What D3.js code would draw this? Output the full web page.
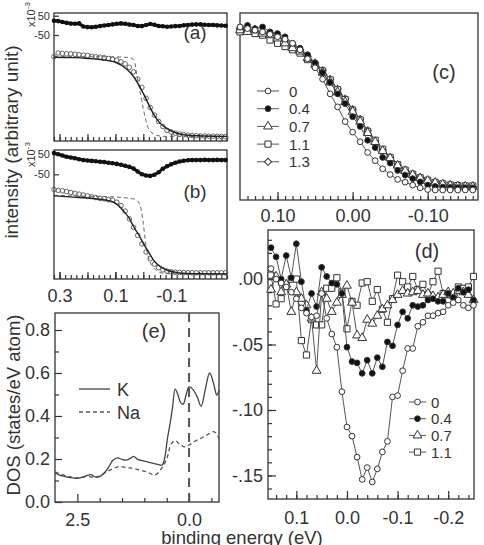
<!DOCTYPE html>
<html>
<head>
<meta charset="utf-8">
<script src="https://cdnjs.cloudflare.com/ajax/libs/d3/7.8.5/d3.min.js"></script>
<style>
  body { margin: 0; background: #fff; }
  svg { display: block; }
</style>
</head>
<body>
<script>
const FONT = '"Liberation Sans", Arial, Helvetica, sans-serif'
const INK = '#333'

// ---- (a), (b): spectra on a shared energy grid
const abEnergy = [0.32, 0.305, 0.29, 0.275, 0.26, 0.245, 0.23, 0.215, 0.2, 0.185, 0.17, 0.155, 0.14, 0.125, 0.11, 0.095, 0.08, 0.065, 0.05, 0.035, 0.02, 0.005,
  -0.01, -0.025, -0.04, -0.055, -0.07, -0.085, -0.1, -0.115, -0.13, -0.145, -0.16, -0.175, -0.19, -0.205, -0.22, -0.235, -0.25, -0.265, -0.28, -0.295]
const aIntensity = [0.955, 1.0, 0.995, 0.99, 0.99, 0.985, 0.98, 0.975, 0.97, 0.96, 0.955, 0.95, 0.945, 0.935, 0.925, 0.915, 0.895, 0.87, 0.83, 0.775, 0.69, 0.59,
  0.46, 0.35, 0.26, 0.185, 0.125, 0.08, 0.06, 0.045, 0.035, 0.028, 0.022, 0.018, 0.015, 0.012, 0.012, 0.01, 0.01, 0.008, 0.006, 0.005]
const aResidual = [24, 22, 17, 13, 9, 8, 10, -6, -9, -10, -7, -4, -1, 2, 5, 8, 10, 8, 4, 2, -3, -4,
  2, 7, 3, -3, -5, -7, -6, -4, -3, 0, 2, 4, 5, 5, 3, 2, 2, 0, -1, -2]
const aFit = [[0.32, 0.95], [0.25, 0.945], [0.2, 0.935], [0.15, 0.92], [0.1, 0.89], [0.06, 0.81], [0.035, 0.72], [0.0, 0.52], [-0.035, 0.285],
  [-0.06, 0.165], [-0.085, 0.1], [-0.12, 0.045], [-0.16, 0.02], [-0.22, 0.012], [-0.3, 0.008]]
const aFermi = [[0.32, 0.955], [0.15, 0.955], [0.08, 0.952], [0.05, 0.945], [0.04, 0.935], [0.03, 0.88], [0.024, 0.76], [0.015, 0.6], [0.006, 0.44],
  [-0.003, 0.29], [-0.012, 0.16], [-0.025, 0.07], [-0.048, 0.02], [-0.07, 0.008], [-0.3, 0.005]]

const bIntensity = [1.0, 0.99, 0.985, 0.975, 0.965, 0.955, 0.945, 0.935, 0.925, 0.915, 0.905, 0.895, 0.89, 0.88, 0.875, 0.85, 0.81, 0.745, 0.655, 0.555, 0.46, 0.36,
  0.265, 0.185, 0.12, 0.08, 0.055, 0.04, 0.032, 0.027, 0.024, 0.022, 0.021, 0.021, 0.02, 0.02, 0.02, 0.02, 0.02, 0.02, 0.02, 0.021]
const bResidual = [56, 50, 44, 38, 34, 30, 25, 21, 19, 17, 15, 13, 11, 8, 5, 2, -2, -7, -13, -21, -36, -50,
  -56, -58, -52, -40, -22, -10, 0, 8, 14, 18, 20, 21, 21, 21, 22, 21, 21, 22, 21, 21]
const bFit = [[0.32, 0.925], [0.25, 0.91], [0.2, 0.9], [0.155, 0.885], [0.12, 0.865], [0.1, 0.84], [0.07, 0.745], [0.05, 0.66], [0.035, 0.565],
  [0.015, 0.46], [0.0, 0.367], [-0.02, 0.26], [-0.036, 0.171], [-0.06, 0.095], [-0.084, 0.053], [-0.11, 0.03], [-0.143, 0.014], [-0.2, 0.008], [-0.3, 0.006]]
const bFermi = [[0.32, 0.93], [0.2, 0.92], [0.12, 0.915], [0.06, 0.9], [0.03, 0.885], [0.015, 0.84], [0.005, 0.72], [0.0, 0.6], [-0.012, 0.29],
  [-0.024, 0.15], [-0.036, 0.085], [-0.05, 0.04], [-0.072, 0.014], [-0.11, 0.006], [-0.3, 0.005]]

// ---- (c): normalised edges
const cEnergy = [0.15, 0.14, 0.13, 0.12, 0.11, 0.1, 0.09, 0.08, 0.07, 0.06, 0.05, 0.04, 0.03, 0.02, 0.01, 0,
  -0.01, -0.02, -0.03, -0.04, -0.05, -0.06, -0.07, -0.08, -0.09, -0.1, -0.11, -0.12, -0.13, -0.14, -0.15, -0.16]
const cLabels = ['0', '0.4', '0.7', '1.1', '1.3']
const c0 = [1.0, 0.99, 0.98, 0.97, 0.955, 0.94, 0.925, 0.9, 0.86, 0.805, 0.75, 0.68, 0.59, 0.51, 0.42, 0.355,
  0.296, 0.23, 0.18, 0.13, 0.095, 0.065, 0.048, 0.03, 0.013, 0.003, 0, 0, 0, 0, 0, 0]
const c04 = [1.0, 1.01, 0.99, 1.0, 0.97, 0.96, 0.94, 0.9, 0.87, 0.83, 0.78, 0.72, 0.66, 0.59, 0.53, 0.45,
  0.39, 0.305, 0.26, 0.2, 0.165, 0.12, 0.092, 0.07, 0.05, 0.03, 0.022, 0.018, 0.016, 0.015, 0.014, 0.013]
const c07 = [0.98, 0.97, 0.98, 0.96, 0.95, 0.93, 0.9, 0.87, 0.85, 0.81, 0.77, 0.72, 0.66, 0.6, 0.54, 0.48,
  0.42, 0.35, 0.295, 0.24, 0.195, 0.15, 0.117, 0.093, 0.073, 0.057, 0.045, 0.035, 0.028, 0.024, 0.022, 0.02]
const c11 = [0.97, 0.98, 0.96, 0.95, 0.92, 0.9, 0.88, 0.86, 0.84, 0.8, 0.765, 0.73, 0.675, 0.615, 0.555, 0.49,
  0.43, 0.36, 0.305, 0.25, 0.2, 0.155, 0.122, 0.097, 0.075, 0.06, 0.047, 0.038, 0.031, 0.027, 0.025, 0.025]
const c13 = [0.99, 0.98, 0.975, 0.97, 0.96, 0.94, 0.92, 0.89, 0.86, 0.82, 0.78, 0.735, 0.68, 0.62, 0.56, 0.495,
  0.435, 0.365, 0.3, 0.245, 0.2, 0.152, 0.118, 0.09, 0.068, 0.052, 0.04, 0.032, 0.026, 0.022, 0.02, 0.018]

// ---- (d): difference spectra
const dEnergy = [0.15, 0.14, 0.13, 0.12, 0.11, 0.1, 0.09, 0.08, 0.07, 0.06, 0.05, 0.04, 0.03, 0.02, 0.01, 0,
  -0.01, -0.02, -0.03, -0.04, -0.05, -0.06, -0.07, -0.08, -0.09, -0.1, -0.11, -0.12, -0.13, -0.14, -0.15,
  -0.16, -0.17, -0.18, -0.19, -0.2, -0.21, -0.22, -0.23, -0.24, -0.25]
const dLabels = ['0', '0.4', '0.7', '1.1']
const d0 = [0.008, 0, -0.003, -0.006, -0.01, -0.015, -0.022, -0.026, -0.029, -0.028, -0.011, -0.03, -0.042, -0.052, -0.086, -0.113,
  -0.12, -0.136, -0.153, -0.144, -0.155, -0.145, -0.132, -0.124, -0.09, -0.089, -0.07, -0.053, -0.053, -0.036, -0.033,
  -0.028, -0.028, -0.026, -0.025, -0.02, -0.018, -0.016, -0.02, -0.022, -0.02]
const d04 = [0.024, 0.017, 0, 0.018, 0.001, 0.027, -0.002, -0.024, -0.011, -0.021, 0.009, 0.002, -0.003, -0.004, -0.011, -0.052,
  -0.063, -0.064, -0.072, -0.062, -0.072, -0.06, -0.067, -0.048, -0.051, -0.035, -0.025, -0.03, -0.02, -0.021, -0.02,
  -0.016, -0.015, -0.017, -0.017, -0.011, -0.014, -0.007, -0.01, -0.008, -0.016]
const d07 = [-0.008, 0.002, -0.01, -0.004, -0.025, -0.01, -0.015, -0.02, -0.03, -0.07, -0.01, -0.015, -0.025, -0.018, -0.012, -0.005,
  -0.018, -0.043, -0.045, -0.031, -0.034, -0.028, -0.023, -0.02, -0.016, -0.012, -0.009, -0.011, -0.01, -0.009, -0.012,
  -0.011, -0.013, -0.014, -0.012, -0.01, -0.011, -0.009, -0.01, -0.012, -0.016]
const d11 = [0.003, -0.019, -0.015, -0.005, 0, 0, -0.047, -0.058, -0.031, -0.035, -0.035, -0.007, -0.007, 0.001, -0.01, -0.038,
  -0.017, -0.02, -0.003, -0.002, -0.017, -0.008, -0.023, -0.033, -0.015, 0.003, -0.002, -0.006, 0.002, -0.008, -0.004,
  -0.012, -0.002, 0.006, -0.011, -0.012, -0.013, -0.006, -0.007, -0.006, 0.002]

// ---- (e): calculated DOS
const eLabels = ['K', 'Na']
const dosK = [[3.0, 0.135], [2.9, 0.125], [2.8, 0.12], [2.7, 0.115], [2.6, 0.112], [2.5, 0.11], [2.4, 0.115], [2.3, 0.122], [2.2, 0.127],
  [2.1, 0.117], [2.0, 0.118], [1.9, 0.135], [1.8, 0.162], [1.7, 0.195], [1.6, 0.205], [1.5, 0.198], [1.4, 0.195], [1.3, 0.205],
  [1.24, 0.212], [1.15, 0.198], [1.0, 0.19], [0.85, 0.182], [0.7, 0.175], [0.6, 0.172], [0.55, 0.2], [0.48, 0.3], [0.42, 0.37],
  [0.37, 0.44], [0.31, 0.525], [0.25, 0.5], [0.19, 0.462], [0.13, 0.455], [0.07, 0.495], [0.0, 0.535], [-0.08, 0.525],
  [-0.18, 0.49], [-0.27, 0.445], [-0.36, 0.52], [-0.46, 0.6], [-0.55, 0.55], [-0.62, 0.497], [-0.67, 0.52]]
const dosNa = [[3.0, 0.14], [2.8, 0.125], [2.6, 0.115], [2.5, 0.112], [2.3, 0.118], [2.1, 0.115], [2.0, 0.12], [1.85, 0.14], [1.7, 0.155],
  [1.55, 0.165], [1.4, 0.16], [1.25, 0.157], [1.1, 0.148], [0.95, 0.14], [0.76, 0.126], [0.62, 0.155], [0.5, 0.2], [0.4, 0.27],
  [0.31, 0.285], [0.2, 0.267], [0.1, 0.256], [0.0, 0.265], [-0.15, 0.285], [-0.3, 0.3], [-0.45, 0.318], [-0.55, 0.327],
  [-0.6, 0.32], [-0.67, 0.296]]

// ---- tick labels
const abTicks = [0.3, 0.1, -0.1], abTickText = ['0.3', '0.1', '-0.1']
const resTicks = [50, -50], resTickText = ['50', '-50']
const cTicks = [0.1, 0, -0.1], cTickText = ['0.10', '0.00', '-0.10']
const dTicks = [0.1, 0, -0.1, -0.2], dTickText = ['0.1', '0.0', '-0.1', '-0.2']
const dYTicks = [0, -0.05, -0.1, -0.15], dYTickText = ['.00', '-.05', '-.10', '-.15']
const eTicks = [2.5, 0], eTickText = ['2.5', '0.0']
const eYTicks = [0, 0.2, 0.4, 0.6, 0.8], eYTickText = ['0.0', '0.2', '0.4', '0.6', '0.8']

const svg = d3.select('body').append('svg')
  .attr('width', 484)
  .attr('height', 545)
  .attr('font-family', FONT)

const frame = (x0, y0, x1, y1) => svg.append('rect')
  .attr('x', x0).attr('y', y0).attr('width', x1 - x0).attr('height', y1 - y0)
  .attr('fill', 'none').attr('stroke', INK).attr('stroke-width', 1.3)

// inward ticks, labels outside
function axis (dir, scale, pos, vals, len, texts, pad, fs) {
  const ax = (dir === 'x' ? d3.axisBottom(scale) : d3.axisLeft(scale))
    .tickValues(vals)
    .tickSize(-len)
    .tickPadding(pad || 0)
    .tickFormat(texts ? (d, i) => texts[i] : () => '')
  const g = svg.append('g')
    .attr('transform', dir === 'x' ? `translate(0,${pos})` : `translate(${pos},0)`)
    .call(ax)
  g.select('.domain').remove()
  g.attr('font-size', fs || 18).attr('font-family', FONT).attr('color', INK)
  g.selectAll('line').attr('stroke-width', 1.2)
  return g
}

const text = (x, y, s, fs, anchor) => svg.append('text')
  .attr('x', x).attr('y', y).attr('font-size', fs).attr('fill', INK)
  .attr('text-anchor', anchor || 'middle').text(s)

const SHAPES = {
  circle: [d3.symbolCircle, 26, 0],
  square: [d3.symbolSquare, 38, 0],
  triangle: [d3.symbolTriangle, 34, 0],
  diamond: [d3.symbolSquare, 26, 45]
}

function markers (g, pts, kind, filled) {
  const [type, size, rot] = SHAPES[kind]
  g.selectAll(null).data(pts).join('path')
    .attr('d', d3.symbol(type, size)())
    .attr('transform', d => `translate(${d[0]},${d[1]}) rotate(${rot})`)
    .attr('fill', filled ? '#111' : '#fff')
    .attr('stroke', INK)
    .attr('stroke-width', 1)
}

function series (xs, ys, x, y, kind, filled) {
  const pts = xs.map((e, i) => [x(e), y(ys[i])])
  const g = svg.append('g')
  g.append('path').attr('d', d3.line()(pts))
    .attr('fill', 'none').attr('stroke', '#555').attr('stroke-width', 1)
  markers(g, pts, kind, filled)
}

// ================= (a) and (b) =================
const xab = d3.scaleLinear().domain([0.32, -0.30]).range([54, 227])
const abMinor = d3.range(-15, 17).map(i => i / 50)
const abMajor = [0.3, 0.2, 0.1, 0, -0.1, -0.2]

function edgePanel (top, bottom, yI, yR, intensity, resid, fit, fermi, tag, tagY, expY) {
  frame(54, top, 227, bottom)
  axis('x', xab, bottom, abMinor, 4)
  axis('x', xab, bottom, abMajor, 7)
  axis('y', yR, 54, resTicks, 5, resTickText, 4, 11)

  const t = svg.append('text')
    .attr('transform', `translate(35,${expY}) rotate(-90)`)
    .attr('font-size', 11).attr('fill', INK)
  t.append('tspan').text('x10')
  t.append('tspan').attr('dy', -5).attr('font-size', 8).text('-3')

  // residual
  const rp = abEnergy.map((e, i) => [xab(e), yR(resid[i])])
  svg.append('path').attr('d', d3.line()(rp))
    .attr('fill', 'none').attr('stroke', '#111').attr('stroke-width', 3)
  svg.append('g').selectAll('circle').data(rp).join('circle')
    .attr('cx', d => d[0]).attr('cy', d => d[1]).attr('r', 2.3).attr('fill', '#111')

  // data
  svg.append('g').selectAll('circle').data(abEnergy).join('circle')
    .attr('cx', d => xab(d)).attr('cy', (d, i) => yI(intensity[i])).attr('r', 2.3)
    .attr('fill', 'none').attr('stroke', '#555').attr('stroke-width', 0.9)

  const ln = d3.line().x(d => xab(d[0])).y(d => yI(d[1])).curve(d3.curveMonotoneX)
  svg.append('path').attr('d', ln(fermi))
    .attr('fill', 'none').attr('stroke', '#666').attr('stroke-width', 1).attr('stroke-dasharray', '4,3')
  svg.append('path').attr('d', ln(fit))
    .attr('fill', 'none').attr('stroke', '#222').attr('stroke-width', 1.4)

  text(195, tagY, tag, 19)
}

edgePanel(13, 141,
  d3.scaleLinear().domain([0, 1]).range([137, 53]),
  d3.scaleLinear().domain([-50, 50]).range([35, 15.7]),
  aIntensity, aResidual, aFit, aFermi, '(a)', 39, 27)

edgePanel(150, 279,
  d3.scaleLinear().domain([0, 1]).range([274.5, 189.5]),
  d3.scaleLinear().domain([-50, 50]).range([174.3, 154.3]),
  bIntensity, bResidual, bFit, bFermi, '(b)', 198, 167)
axis('x', xab, 279, abTicks, 7, abTickText, 10)

svg.append('text')
  .attr('transform', 'translate(18,142) rotate(-90)')
  .attr('font-size', 19).attr('fill', INK).attr('text-anchor', 'middle')
  .text('intensity (arbitrary unit)')

// ================= (c) =================
const xc = d3.scaleLinear().domain([0.15, -0.167]).range([240, 478])
const yc = d3.scaleLinear().domain([0, 1]).range([190, 27])
frame(240, 13, 478, 200)
axis('x', xc, 200, d3.range(-16, 15).map(i => i / 100), 4)
axis('x', xc, 200, cTicks, 8, cTickText, 9)

series(cEnergy, c13, xc, yc, 'diamond', false)
series(cEnergy, c11, xc, yc, 'square', false)
series(cEnergy, c07, xc, yc, 'triangle', false)
series(cEnergy, c04, xc, yc, 'circle', true)
series(cEnergy, c0, xc, yc, 'circle', false)

const cKinds = [['circle', false], ['circle', true], ['triangle', false], ['square', false], ['diamond', false]]
cLabels.forEach((lab, i) => {
  const y = 91 + i * 17.7
  const g = svg.append('g')
  g.append('line').attr('x1', 257).attr('x2', 279).attr('y1', y).attr('y2', y)
    .attr('stroke', '#555').attr('stroke-width', 1)
  markers(g, [[268, y]], cKinds[i][0], cKinds[i][1])
  text(289, y + 5.5, lab, 15, 'start')
})
text(444, 79, '(c)', 20)

// ================= (d) =================
const xd = d3.scaleLinear().domain([0.156, -0.251]).range([268, 474])
const yd = d3.scaleLinear().domain([-0.168, 0.0375]).range([499, 230])
frame(268, 230, 474, 499)
axis('x', xd, 499, d3.range(-12, 8).map(i => i / 50), 4)
axis('x', xd, 499, dTicks, 8, dTickText, 12)
axis('y', yd, 268, d3.range(-16, 4).map(i => i / 100), 4)
axis('y', yd, 268, dYTicks, 8, dYTickText, 5)

series(dEnergy, d11, xd, yd, 'square', false)
series(dEnergy, d07, xd, yd, 'triangle', false)
series(dEnergy, d04, xd, yd, 'circle', true)
series(dEnergy, d0, xd, yd, 'circle', false)

dLabels.forEach((lab, i) => {
  const y = 402 + i * 16.7
  const g = svg.append('g')
  g.append('line').attr('x1', 409).attr('x2', 426).attr('y1', y).attr('y2', y)
    .attr('stroke', '#555').attr('stroke-width', 1)
  markers(g, [[417.5, y]], cKinds[i][0], cKinds[i][1])
  text(431, y + 5.5, lab, 15, 'start')
})
text(427, 258, '(d)', 20)

// ================= (e) =================
const xe = d3.scaleLinear().domain([3.0, -0.67]).range([55, 219])
const ye = d3.scaleLinear().domain([0, 0.879]).range([502, 313])
frame(55, 313, 219, 502)
axis('x', xe, 502, [2.0, 1.5, 1.0, 0.5, -0.5], 4)
axis('x', xe, 502, eTicks, 8, eTickText, 11)
axis('y', ye, 55, [0.1, 0.3, 0.5, 0.7], 4)
axis('y', ye, 55, eYTicks, 7, eYTickText, 5)

svg.append('line').attr('x1', xe(0)).attr('x2', xe(0)).attr('y1', 313).attr('y2', 502)
  .attr('stroke', '#555').attr('stroke-width', 2).attr('stroke-dasharray', '9,6')

const le = d3.line().x(d => xe(d[0])).y(d => ye(d[1])).curve(d3.curveCatmullRom)
svg.append('path').attr('d', le(dosNa))
  .attr('fill', 'none').attr('stroke', '#555').attr('stroke-width', 1.3).attr('stroke-dasharray', '4,3')
svg.append('path').attr('d', le(dosK))
  .attr('fill', 'none').attr('stroke', '#444').attr('stroke-width', 1.3)

eLabels.forEach((lab, i) => {
  const y = 389 + i * 23
  svg.append('line').attr('x1', 79).attr('x2', 110).attr('y1', y).attr('y2', y)
    .attr('stroke', i ? '#555' : '#444').attr('stroke-width', 1.3)
    .attr('stroke-dasharray', i ? '4,3' : null)
  text(117, y + 7, lab, 18, 'start')
})
text(154, 338, '(e)', 20)

svg.append('text')
  .attr('transform', 'translate(20,405) rotate(-90)')
  .attr('font-size', 18.5).attr('fill', INK).attr('text-anchor', 'middle')
  .text('DOS (states/eV atom)')

text(242, 544, 'binding energy (eV)', 18.5)
</script>
</body>
</html>
